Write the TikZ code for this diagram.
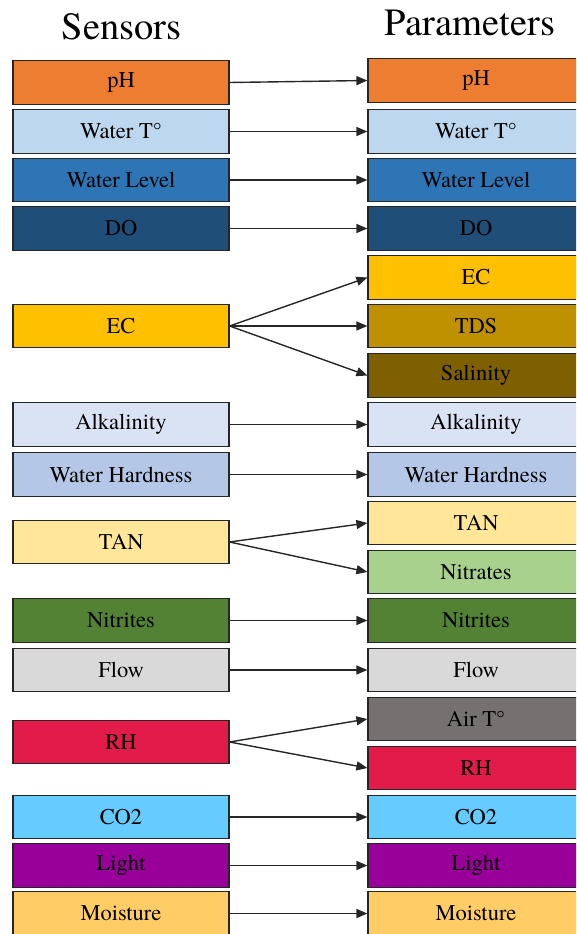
\documentclass[tikz,border=0pt]{standalone}
\usepackage{fontspec}
\setmainfont{TeX Gyre Termes}
\usetikzlibrary{arrows.meta}

% fill colours of the boxes
\definecolor{cPH}{HTML}{ED7D31}
\definecolor{cWT}{HTML}{BDD7EE}
\definecolor{cWL}{HTML}{2E75B6}
\definecolor{cDO}{HTML}{1F4E79}
\definecolor{cEC}{HTML}{FFC000}
\definecolor{cTDS}{HTML}{BF9000}
\definecolor{cSal}{HTML}{7F6000}
\definecolor{cAlk}{HTML}{DAE3F3}
\definecolor{cWH}{HTML}{B4C7E7}
\definecolor{cTAN}{HTML}{FFE699}
\definecolor{cNa}{HTML}{A9D18E}
\definecolor{cNi}{HTML}{548235}
\definecolor{cFlow}{HTML}{D9D9D9}
\definecolor{cAir}{HTML}{767171}
\definecolor{cRH}{HTML}{E31B4A}
\definecolor{cCO}{HTML}{66CCFF}
\definecolor{cLight}{HTML}{990099}
\definecolor{cMoist}{HTML}{FFCC66}
\definecolor{edge}{HTML}{262626}

\tikzset{
  box/.style={draw=edge, line width=1.2pt, minimum width=216pt, minimum height=43.5pt,
              inner sep=0pt, text=black, font=\fontsize{22.5}{22.5}\selectfont},
  title/.style={anchor=base, inner sep=0pt, font=\fontsize{38.5}{38.5}\selectfont},
  arr/.style={draw=edge, line width=1.4pt, -{Triangle[length=11pt,width=9pt]}},
}

\begin{document}
\begin{tikzpicture}[x=1pt,y=-1pt]
\clip (0,0) rectangle (576,934);

% column headings
\node[title] (hs) at (121.5,40) {Sensors};
\node[title] (hp) at (470,36) {Parameters};

% sensors (left column)
\node[box, fill=cPH]    (s-ph)    at (121,82.5)  {pH};
\node[box, fill=cWT]    (s-wt)    at (121,131.5) {Water T°};
\node[box, fill=cWL]    (s-wl)    at (121,180)   {Water Level};
\node[box, fill=cDO]    (s-do)    at (121,228.5) {DO};
\node[box, fill=cEC]    (s-ec)    at (121,326)   {EC};
\node[box, fill=cAlk]   (s-alk)   at (121,424.5) {Alkalinity};
\node[box, fill=cWH]    (s-wh)    at (121,474.5) {Water Hardness};
\node[box, fill=cTAN]   (s-tan)   at (121,542)   {TAN};
\node[box, fill=cNi]    (s-ni)    at (121,620.5) {Nitrites};
\node[box, fill=cFlow]  (s-flow)  at (121,670)   {Flow};
\node[box, fill=cRH]    (s-rh)    at (121,742)   {RH};
\node[box, fill=cCO]    (s-co)    at (121,817)   {CO2};
\node[box, fill=cLight] (s-light) at (121,865.5) {Light};
\node[box, fill=cMoist] (s-moist) at (121,913.5) {Moisture};

% parameters (right column)
\node[box, fill=cPH]    (p-ph)    at (476,80.5)  {pH};
\node[box, fill=cWT]    (p-wt)    at (476,131.5) {Water T°};
\node[box, fill=cWL]    (p-wl)    at (476,180)   {Water Level};
\node[box, fill=cDO]    (p-do)    at (476,228.5) {DO};
\node[box, fill=cEC]    (p-ec)    at (476,277.5) {EC};
\node[box, fill=cTDS]   (p-tds)   at (476,326)   {TDS};
\node[box, fill=cSal]   (p-sal)   at (476,375.5) {Salinity};
\node[box, fill=cAlk]   (p-alk)   at (476,424.5) {Alkalinity};
\node[box, fill=cWH]    (p-wh)    at (476,474.5) {Water Hardness};
\node[box, fill=cTAN]   (p-tan)   at (476,523)   {TAN};
\node[box, fill=cNa]    (p-na)    at (476,572)   {Nitrates};
\node[box, fill=cNi]    (p-ni)    at (476,620.5) {Nitrites};
\node[box, fill=cFlow]  (p-flow)  at (476,670)   {Flow};
\node[box, fill=cAir]   (p-air)   at (476,719)   {Air T°};
\node[box, fill=cRH]    (p-rh)    at (476,768)   {RH};
\node[box, fill=cCO]    (p-co)    at (476,817)   {CO2};
\node[box, fill=cLight] (p-light) at (476,865.5) {Light};
\node[box, fill=cMoist] (p-moist) at (476,913.5) {Moisture};

% sensor -> parameter links
\draw[arr] (s-ph.east)    -- (p-ph.west);
\draw[arr] (s-wt.east)    -- (p-wt.west);
\draw[arr] (s-wl.east)    -- (p-wl.west);
\draw[arr] (s-do.east)    -- (p-do.west);
\draw[arr] (s-ec.east)    -- (p-ec.west);
\draw[arr] (s-ec.east)    -- (p-tds.west);
\draw[arr] (s-ec.east)    -- (p-sal.west);
\draw[arr] (s-alk.east)   -- (p-alk.west);
\draw[arr] (s-wh.east)    -- (p-wh.west);
\draw[arr] (s-tan.east)   -- (p-tan.west);
\draw[arr] (s-tan.east)   -- (p-na.west);
\draw[arr] (s-ni.east)    -- (p-ni.west);
\draw[arr] (s-flow.east)  -- (p-flow.west);
\draw[arr] (s-rh.east)    -- (p-air.west);
\draw[arr] (s-rh.east)    -- (p-rh.west);
\draw[arr] (s-co.east)    -- (p-co.west);
\draw[arr] (s-light.east) -- (p-light.west);
\draw[arr] (s-moist.east) -- (p-moist.west);
\end{tikzpicture}
\end{document}
